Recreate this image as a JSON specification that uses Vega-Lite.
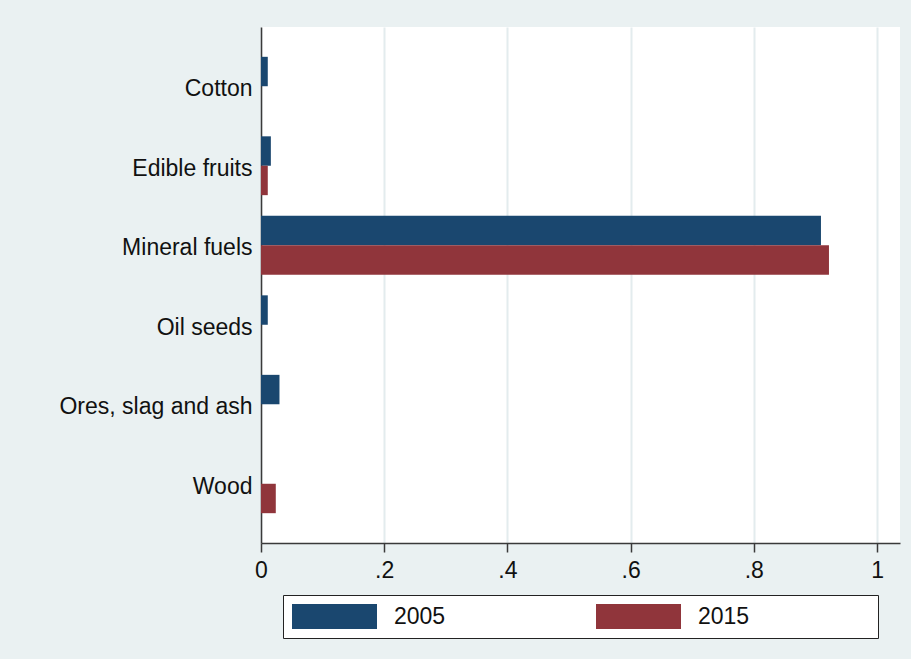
{
  "$schema": "https://vega.github.io/schema/vega-lite/v6.json",
  "autosize": "none",
  "width": 639,
  "height": 516,
  "padding": {"left": 261, "top": 27, "right": 11, "bottom": 116},
  "background": "#EAF1F2",
  "config": {
    "font": "Liberation Sans",
    "view": {"fill": "white", "stroke": null}
  },
  "data": {
    "values": [
      {"product": "Cotton", "year": "2005", "share": 0.011},
      {"product": "Cotton", "year": "2015", "share": 0},
      {"product": "Edible fruits", "year": "2005", "share": 0.016},
      {"product": "Edible fruits", "year": "2015", "share": 0.011},
      {"product": "Mineral fuels", "year": "2005", "share": 0.909},
      {"product": "Mineral fuels", "year": "2015", "share": 0.922},
      {"product": "Oil seeds", "year": "2005", "share": 0.011},
      {"product": "Oil seeds", "year": "2015", "share": 0},
      {"product": "Ores, slag and ash", "year": "2005", "share": 0.030},
      {"product": "Ores, slag and ash", "year": "2015", "share": 0},
      {"product": "Wood", "year": "2005", "share": 0},
      {"product": "Wood", "year": "2015", "share": 0.024}
    ]
  },
  "mark": {"type": "bar"},
  "encoding": {
    "y": {
      "field": "product",
      "type": "nominal",
      "sort": null,
      "scale": {"paddingInner": 0.26, "paddingOuter": 0.375},
      "axis": {
        "title": null,
        "ticks": false,
        "labelFontSize": 23,
        "labelColor": "#111111",
        "labelPadding": 9,
        "labelOffset": 3,
        "labelLimit": 300,
        "domainColor": "#3a3a3a",
        "domainWidth": 1.5,
        "grid": false
      }
    },
    "yOffset": {"field": "year", "type": "nominal", "scale": {"paddingInner": 0, "paddingOuter": 0}},
    "x": {
      "field": "share",
      "type": "quantitative",
      "scale": {"domain": [0, 1.0373], "nice": false, "zero": true},
      "axis": {
        "title": null,
        "values": [0, 0.2, 0.4, 0.6, 0.8, 1],
        "labelExpr": "datum.value == 0 ? '0' : datum.value == 1 ? '1' : replace(format(datum.value, '.1f'), '0.', '.')",
        "labelFontSize": 23,
        "labelColor": "#111111",
        "labelPadding": 7,
        "tickSize": 9,
        "tickColor": "#3a3a3a",
        "tickWidth": 1.5,
        "domainColor": "#3a3a3a",
        "domainWidth": 1.5,
        "grid": true,
        "gridColor": "#E3ECEE",
        "gridWidth": 2,
        "labelFlush": false
      }
    },
    "color": {
      "field": "year",
      "type": "nominal",
      "scale": {"domain": ["2005", "2015"], "range": ["#1A476F", "#90353B"]},
      "legend": {
        "title": ".",
        "titleOrient": "right",
        "titleColor": "white",
        "titleFontSize": 10,
        "titlePadding": 117,
        "orient": "none",
        "legendX": 22,
        "legendY": 568,
        "direction": "horizontal",
        "columns": 2,
        "symbolType": "M-1,-1H5.8V1H-1Z",
        "symbolSize": 625,
        "symbolStrokeWidth": 0,
        "symbolOpacity": 1,
        "labelFontSize": 23,
        "labelColor": "#111111",
        "labelOffset": 77,
        "columnPadding": 150,
        "padding": 9,
        "fillColor": "white",
        "strokeColor": "#222222",
        "labelLimit": 400
      }
    }
  }
}
